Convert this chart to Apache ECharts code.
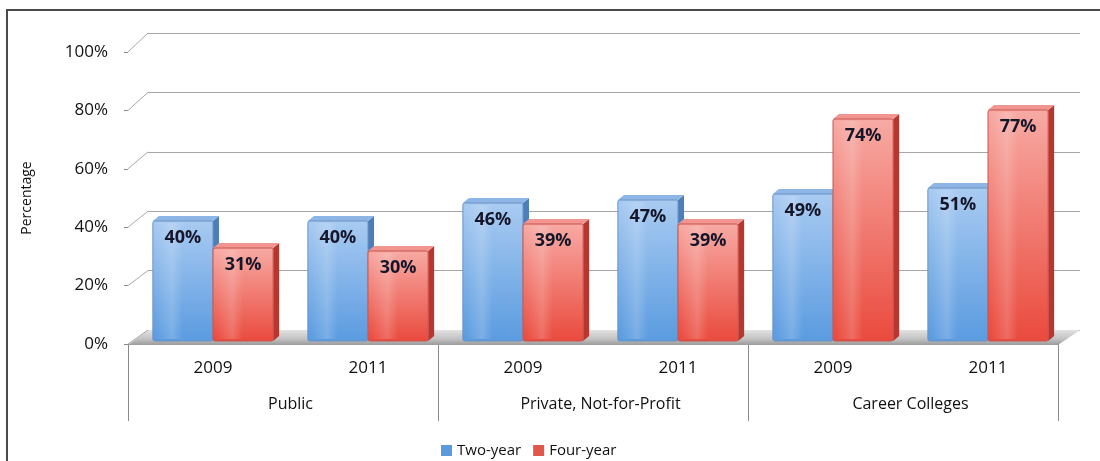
<!DOCTYPE html>
<html>
<head>
<meta charset="utf-8">
<script src="https://cdn.jsdelivr.net/npm/echarts@6/dist/echarts.min.js"></script>
<style>
  html, body { margin: 0; padding: 0; background: #fff; }
  #chart { width: 1100px; height: 461px; }
</style>
</head>
<body>
<div id="chart"></div>
<script>
// Enrollment outcome percentages by sector and year
const years = ['2009', '2011', '2009', '2011', '2009', '2011'];
const groups = ['Public', 'Private, Not-for-Profit', 'Career Colleges'];
const twoYear = [40, 40, 46, 47, 49, 51];
const fourYear = [31, 30, 39, 39, 74, 77];
const yTicks = [0, 20, 40, 60, 80, 100];

const FONT = '"Open Sans", "Noto Sans", sans-serif';

// Box palette: front gradient (top -> bottom), top face, side face, edge
const palettes = [
  { top: '#a9cbf1', bottom: '#5a9be0', cap: '#8db6e6', side: '#4c7fba', edge: '#6a92c4' },
  { top: '#f7aaa4', bottom: '#ea4a3d', cap: '#f09590', side: '#b7372f', edge: '#c9554e' }
];

// Oblique depth used for the 3D look
const DEPTH_X = 6, DEPTH_Y = 5;

function barRenderer(seriesIndex) {
  const p = palettes[seriesIndex];
  return function (params, api) {
    const cat = api.value(0);
    const v = api.value(1);
    const base = api.coord([cat, 0]);
    const top = api.coord([cat, v]);
    const band = api.size([1, 0])[0];
    const w = band * 0.388;
    const x0 = base[0] - w + seriesIndex * w;
    const x1 = x0 + w;
    const yT = top[1], yB = base[1];
    const children = [];
    // side face
    children.push({
      type: 'polygon',
      shape: { points: [[x1, yT], [x1 + DEPTH_X, yT - DEPTH_Y], [x1 + DEPTH_X, yB - DEPTH_Y], [x1, yB]] },
      style: { fill: p.side }
    });
    // top face
    children.push({
      type: 'polygon',
      shape: { points: [[x0, yT], [x0 + DEPTH_X, yT - DEPTH_Y], [x1 + DEPTH_X, yT - DEPTH_Y], [x1, yT]] },
      style: { fill: p.cap }
    });
    // front face
    children.push({
      type: 'rect',
      shape: { x: x0, y: yT, width: w, height: yB - yT, r: 2 },
      style: {
        fill: new echarts.graphic.LinearGradient(0, 0, 0, 1, [
          { offset: 0, color: p.top },
          { offset: 1, color: p.bottom }
        ]),
        stroke: p.edge,
        lineWidth: 1
      }
    });
    // soft highlight down the left of the front face
    children.push({
      type: 'rect',
      shape: { x: x0 + 3, y: yT + 2, width: w * 0.45, height: yB - yT - 4 },
      style: {
        fill: new echarts.graphic.LinearGradient(0, 0, 1, 0, [
          { offset: 0, color: 'rgba(255,255,255,0.0)' },
          { offset: 0.6, color: 'rgba(255,255,255,0.18)' },
          { offset: 1, color: 'rgba(255,255,255,0.0)' }
        ])
      }
    });
    // value label
    children.push({
      type: 'text',
      style: {
        text: v + '%',
        x: x0 + w / 2,
        y: yT + 17,
        align: 'center',
        verticalAlign: 'middle',
        fill: '#16162a',
        font: 'bold 18px ' + FONT
      }
    });
    return { type: 'group', children: children };
  };
}

// Floor of the plot area plus the slanted connectors from tick labels to the back wall
function floorRenderer(params, api) {
  const cs = params.coordSys;
  const left = cs.x, right = cs.x + cs.width;
  const y0 = api.coord([0, 0])[1];
  const children = [{
    type: 'polygon',
    shape: { points: [[left, y0 + 1], [right, y0 + 1], [right + 22, y0 - 14], [left + 20, y0 - 14]] },
    style: {
      fill: new echarts.graphic.LinearGradient(0, 0, 0, 1, [
        { offset: 0, color: '#e2e2e2' },
        { offset: 0.6, color: '#c2c2c2' },
        { offset: 1, color: '#9a9a9a' }
      ])
    }
  }];
  yTicks.forEach(function (t) {
    const y = api.coord([0, t])[1];
    const rise = 14 + 5 * t / 100;
    children.push({
      type: 'line',
      shape: { x1: left, y1: y, x2: left + 20, y2: y - rise },
      style: { stroke: '#a8a8a8', lineWidth: 1 }
    });
  });
  return { type: 'group', children: children };
}

const chart = echarts.init(document.getElementById('chart'));

chart.setOption({
  animation: false,
  backgroundColor: '#ffffff',
  textStyle: { fontFamily: FONT },
  graphic: [{
    type: 'polyline',
    shape: { points: [[7, 461], [7, 10], [1100, 10]] },
    style: { stroke: '#4a4a4a', lineWidth: 2, fill: null }
  }],
  legend: {
    left: 436,
    top: 438,
    itemWidth: 11,
    itemHeight: 11,
    itemGap: 12,
    icon: 'rect',
    textStyle: { fontSize: 15, color: '#111', fontFamily: FONT },
    data: ['Two-year', 'Four-year']
  },
  grid: [
    // front plane: tick labels and group separators
    { left: 128, right: 42, top: 52, bottom: 117 },
    // back wall: gridlines
    { left: 148, right: 20, top: 33, bottom: 131 },
    // bars
    { left: 135.5, right: 34.5, top: 41, bottom: 120 }
  ],
  xAxis: [
    {
      gridIndex: 2, type: 'category', data: years,
      axisLine: { show: false }, axisTick: { show: false },
      axisLabel: { margin: 19, fontSize: 17, color: '#111' }
    },
    {
      gridIndex: 2, type: 'category', data: groups, position: 'bottom',
      axisLine: { show: false }, axisTick: { show: false },
      axisLabel: { margin: 55, fontSize: 16, color: '#111', interval: 0 }
    },
    {
      gridIndex: 0, type: 'category', data: groups,
      axisLine: { show: false },
      axisTick: { show: true, length: 77, interval: 0, lineStyle: { color: '#8a8a8a' } },
      axisLabel: { show: false }
    },
    {
      gridIndex: 1, type: 'value', min: 0, max: 1, show: false
    }
  ],
  yAxis: [
    {
      gridIndex: 0, type: 'value', min: 0, max: 100, interval: 20,
      axisLine: { show: false },
      axisTick: { show: true, length: 4, lineStyle: { color: '#8a8a8a' } },
      splitLine: { show: false },
      axisLabel: { formatter: '{value}%', fontSize: 17, color: '#111', margin: 20 },
      name: 'Percentage', nameLocation: 'middle', nameRotate: 90, nameGap: 94,
      nameTextStyle: { fontSize: 14, color: '#111' }
    },
    {
      gridIndex: 1, type: 'value', min: 0, max: 100, interval: 20,
      axisLine: { show: false }, axisTick: { show: false }, axisLabel: { show: false },
      splitLine: { show: true, lineStyle: { color: '#a6a6a6', width: 1 } }
    },
    {
      gridIndex: 2, type: 'value', min: 0, max: 100, interval: 20, show: false
    }
  ],
  series: [
    {
      type: 'custom', name: 'floor', xAxisIndex: 2, yAxisIndex: 0,
      renderItem: floorRenderer, data: [[0, 0]], silent: true, z: 1
    },
    {
      type: 'custom', name: 'Two-year', xAxisIndex: 0, yAxisIndex: 2,
      itemStyle: { color: '#5a9be0' },
      renderItem: barRenderer(0),
      data: twoYear.map(function (v, i) { return [i, v]; }), z: 3
    },
    {
      type: 'custom', name: 'Four-year', xAxisIndex: 0, yAxisIndex: 2,
      itemStyle: { color: '#e2574c' },
      renderItem: barRenderer(1),
      data: fourYear.map(function (v, i) { return [i, v]; }), z: 4
    }
  ]
});
</script>
</body>
</html>
